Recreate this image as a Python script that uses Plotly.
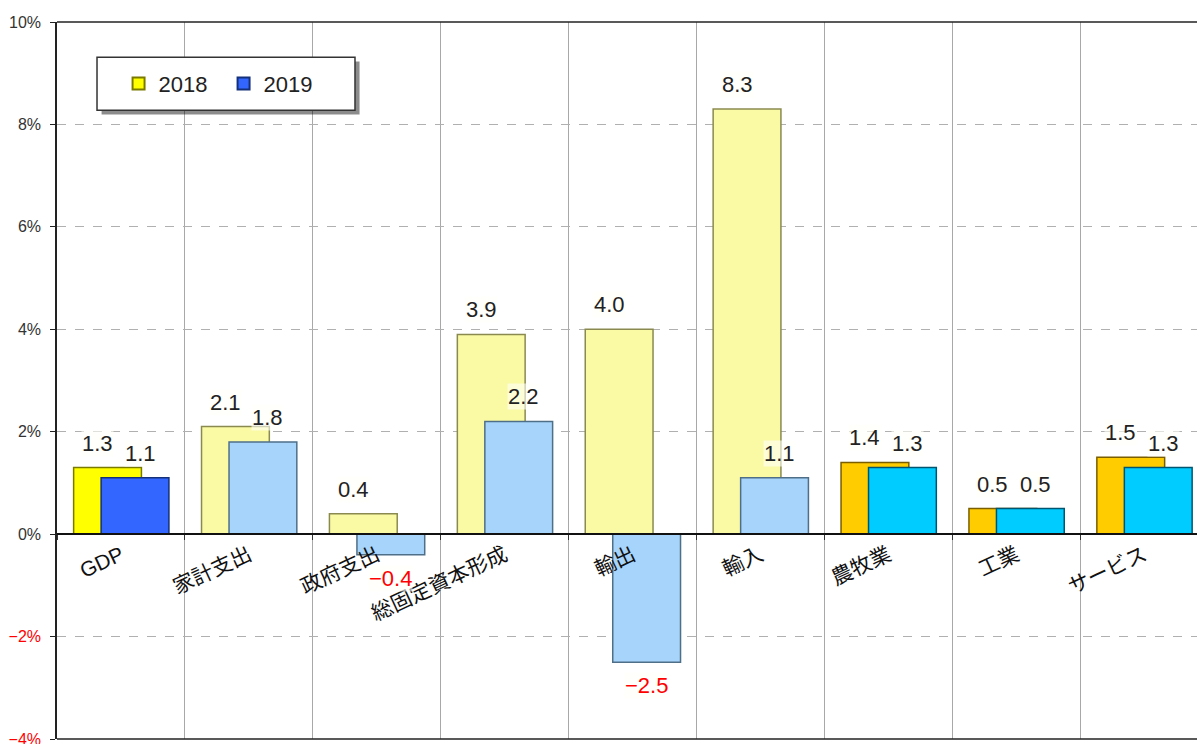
import plotly.graph_objects as go

categories = ["GDP", "家計支出", "政府支出", "総固定資本形成", "輸出", "輸入", "農牧業", "工業", "サービス"]
vals_2018 = [1.3, 2.1, 0.4, 3.9, 4.0, 8.3, 1.4, 0.5, 1.5]
vals_2019 = [1.1, 1.8, -0.4, 2.2, -2.5, 1.1, 1.3, 0.5, 1.3]
colors_2018 = ["#FFFF00"] + ["#FAFAA5"] * 5 + ["#FFCC00"] * 3
colors_2019 = ["#3366FF"] + ["#A6D4FA"] * 5 + ["#00CCFF"] * 3
edge_2018 = ["#7A7A00"] + ["#8A8A50"] * 5 + ["#7A5E00"] * 3
edge_2019 = ["#15307A"] + ["#4F6F89"] * 5 + ["#005670"] * 3
ytick_vals = [-4, -2, 0, 2, 4, 6, 8, 10]
ytick_text = ['<span style="color:red">−4%</span>', '<span style="color:red">−2%</span>',
              "0%", "2%", "4%", "6%", "8%", "10%"]

idx = list(range(len(categories)))
W = 0.53
OFF18, OFF19 = -0.37, -0.155
LABEL_SHIFT = {"2018": -10, "2019": 5}
FONT = "Liberation Sans, Noto Sans CJK JP, sans-serif"

fig = go.Figure()
fig.add_trace(go.Bar(x=idx, y=vals_2018, name="2018", offset=OFF18, width=W,
                     marker=dict(color=colors_2018, line=dict(color=edge_2018, width=1.5))))
fig.add_trace(go.Bar(x=idx, y=vals_2019, name="2019", offset=OFF19, width=W,
                     marker=dict(color=colors_2019, line=dict(color=edge_2019, width=1.5))))

def fmt(v):
    return ("−" if v < 0 else "") + f"{abs(v):.1f}"

for name, vals, off in (("2018", vals_2018, OFF18), ("2019", vals_2019, OFF19)):
    for i, v in zip(idx, vals):
        neg = v < 0
        fig.add_annotation(x=i + off + W / 2, y=v, text=fmt(v), showarrow=False,
                           xshift=LABEL_SHIFT[name] if not neg else 0,
                           yanchor="top" if neg else "bottom", yshift=-10 if neg else 11,
                           font=dict(size=22, color="red" if neg else "#222", family=FONT),
                           bgcolor="rgba(255,255,250,0.6)", borderpad=0)

p0 = (0 - ytick_vals[0]) / (ytick_vals[-1] - ytick_vals[0])

# legend box with shadow
bx0, bx1, by0, by1 = 0.0351, 0.2614, 0.877, 0.951
fig.add_shape(type="rect", xref="paper", yref="paper", x0=bx0 + 0.004, x1=bx1 + 0.004,
              y0=by0 - 0.006, y1=by1 - 0.006, fillcolor="rgba(0,0,0,0.45)", line=dict(width=0), layer="above")
fig.add_shape(type="rect", xref="paper", yref="paper", x0=bx0, x1=bx1, y0=by0, y1=by1,
              fillcolor="white", line=dict(color="#333", width=1.5), layer="above")
# frame top & bottom
for yy in (0, 1):
    fig.add_shape(type="line", xref="paper", yref="paper", x0=0, x1=1, y0=yy, y1=yy,
                  line=dict(color="#222", width=1.5))

fig.update_layout(
    width=1197, height=744,
    margin=dict(l=57, r=0, t=22, b=5),
    paper_bgcolor="white", plot_bgcolor="white",
    barmode="overlay",
    showlegend=True,
    legend=dict(orientation="h", x=0.054, y=(by0 + by1) / 2, xanchor="left", yanchor="middle",
                bgcolor="rgba(0,0,0,0)", font=dict(size=22, family=FONT, color="#222"),
                entrywidth=60, itemsizing="constant"),
    font=dict(family=FONT),
    xaxis=dict(range=[-0.5, 8.413], tickmode="array", tickvals=idx, ticktext=categories,
               tickangle=-25, ticks="", showgrid=False, zeroline=False, automargin=False,
               anchor="free", position=p0, showline=True, linecolor="#111", linewidth=1.5,
               tickfont=dict(size=21, color="#111", family=FONT),
               minor=dict(tickmode="linear", tick0=0.5, dtick=1, showgrid=True,
                          gridcolor="#A8A8A8", gridwidth=1, ticks="outside", ticklen=5,
                          tickcolor="#333")),
    yaxis=dict(range=[ytick_vals[0], ytick_vals[-1]], tickmode="array", tickvals=ytick_vals,
               ticktext=ytick_text, showgrid=True, gridcolor="#B0B0B0", griddash="dash",
               zeroline=False, showline=True, linecolor="#222", linewidth=1.5, automargin=False,
               ticks="outside", ticklen=5, tickcolor="#222", ticklabeloverflow="allow",
               ticklabelstandoff=6,
               tickfont=dict(size=16, color="#333", family=FONT)),
)

fig.write_html("out.html")
